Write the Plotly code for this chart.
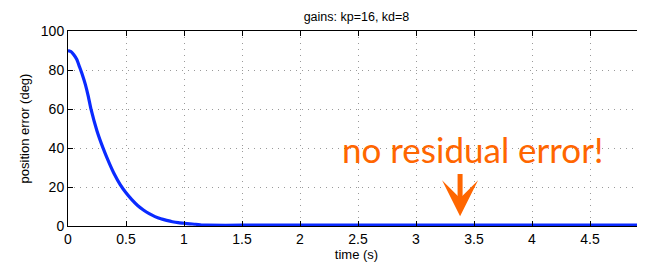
import plotly.graph_objects as go

time_s = [0, 0.025, 0.05, 0.075, 0.1, 0.125, 0.15, 0.175, 0.2, 0.25, 0.3, 0.35, 0.4, 0.45, 0.5,
          0.55, 0.6, 0.65, 0.7, 0.75, 0.8, 0.85, 0.9, 0.95, 1.0, 1.05, 1.1, 1.15, 1.2,
          1.5, 2.0, 2.5, 3.0, 3.5, 4.0, 4.5, 5.0]
pos_error = [90, 89.5, 87.8, 85.5, 81.5, 77.3, 72.5, 66.5, 59.5, 48.7, 40.3, 33, 26.5, 21.2, 17,
             13.5, 10.5, 8.2, 6.3, 4.8, 3.7, 2.9, 2.2, 1.7, 1.4, 1.1, 0.9, 0.5, 0.4,
             0.4, 0.4, 0.4, 0.4, 0.4, 0.4, 0.4, 0.4]
x_ticks = [0, 0.5, 1, 1.5, 2, 2.5, 3, 3.5, 4, 4.5, 5]
y_ticks = [0, 20, 40, 60, 80, 100]
title_text = "gains: kp=16, kd=8"
note_text = "no residual error!"

fig = go.Figure()
fig.add_trace(go.Scatter(x=time_s, y=pos_error, mode="lines",
                         line=dict(color="#0a2aff", width=3.2, shape="spline", smoothing=0.6),
                         showlegend=False, cliponaxis=False))

axis_common = dict(showline=True, linecolor="black", linewidth=1, mirror="ticks",
                   ticks="inside", ticklen=5, tickcolor="black",
                   showgrid=True, gridcolor="#9a9a9a", griddash="1px,5px", gridwidth=1,
                   zeroline=False, tickfont=dict(size=14, color="black"))

# the page body has an 8px margin, so the figure is shrunk by that amount
fig.update_layout(
    width=637, height=256,
    margin=dict(l=60, r=0, t=23, b=38),
    paper_bgcolor="white", plot_bgcolor="white",
    font=dict(family="Liberation Sans, Arial, sans-serif", color="black"),
    title=dict(text=title_text, x=0.5, xanchor="center", xref="paper",
               y=1 - 9 / 256, yanchor="middle", yref="container",
               font=dict(size=12.5, color="black")),
    xaxis=dict(range=[0, 577 / 116], tickvals=x_ticks,
               ticktext=[f"{v:g}" for v in x_ticks],
               title=dict(text="time (s)", font=dict(size=13), standoff=2),
               **axis_common),
    yaxis=dict(range=[0, 100], tickvals=y_ticks,
               title=dict(text="position error (deg)", font=dict(size=13), standoff=8),
               **axis_common),
)

fig.add_annotation(x=3.49, y=39.5, xref="x", yref="y", text=note_text, showarrow=False,
                   font=dict(size=35, color="#ff6600", family="Lato, Open Sans, sans-serif"))
fig.add_annotation(x=3.38, y=5.0, xref="x", yref="y", ax=3.38, ay=27.5,
                   axref="x", ayref="y", text="", showarrow=True,
                   arrowhead=3, arrowsize=1.2, arrowwidth=5, arrowcolor="#ff6600")

fig.write_html("out.html")
